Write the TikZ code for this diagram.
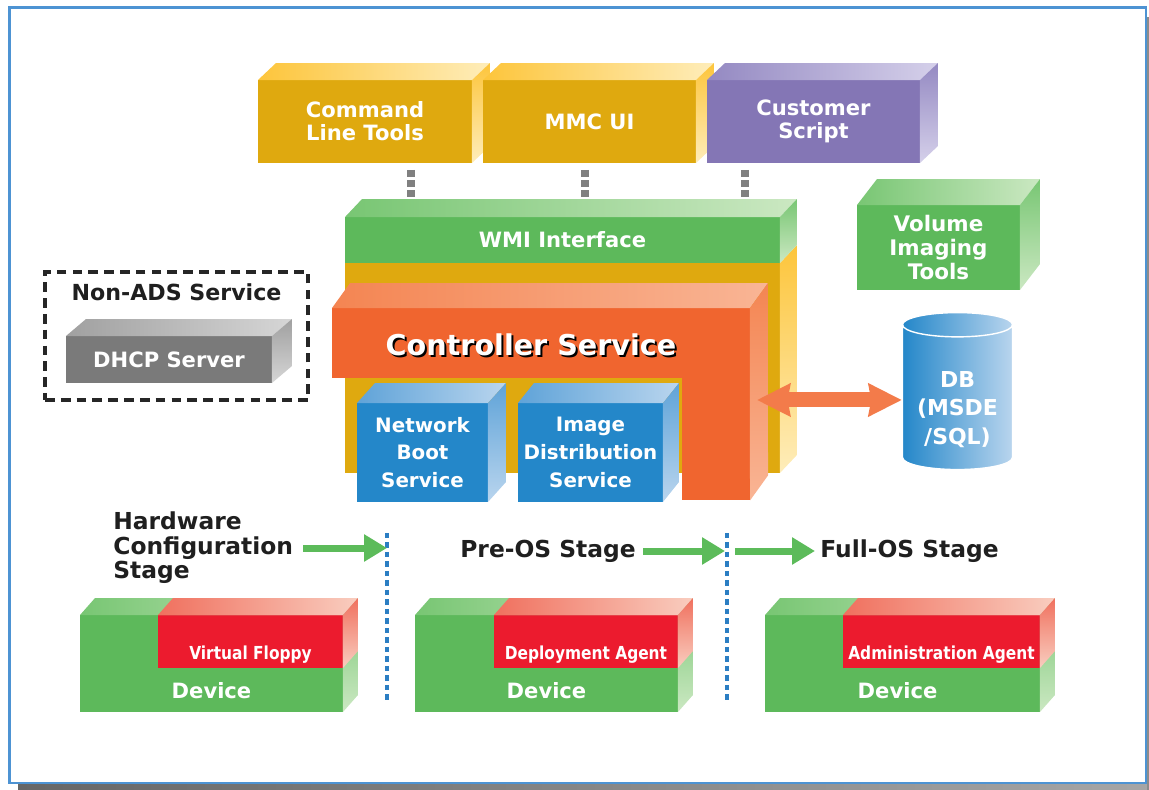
\documentclass[tikz,border=0pt]{standalone}
\usepackage{fontspec}
\setmainfont{DejaVu Sans}
\newfontfamily\narrowsans[FakeStretch=0.86]{DejaVu Sans}
\usetikzlibrary{arrows.meta, positioning, calc, shapes.geometric}

\definecolor{framebl}{HTML}{4D93D3}
\definecolor{goldfront}{HTML}{DFA90F}
\definecolor{goldtop}{HTML}{FDC53B}
\definecolor{goldlight}{HTML}{FEEDBA}
\definecolor{purplefront}{HTML}{8476B5}
\definecolor{purpletop}{HTML}{9489C2}
\definecolor{purplelight}{HTML}{D5D0EA}
\definecolor{greenfront}{HTML}{5DB95B}
\definecolor{greentop}{HTML}{78C673}
\definecolor{greenlight}{HTML}{CBE8C2}
\definecolor{orangefront}{HTML}{F0652F}
\definecolor{orangetop}{HTML}{F48552}
\definecolor{orangelight}{HTML}{F9B595}
\definecolor{bluefront}{HTML}{2487C9}
\definecolor{bluetop}{HTML}{5FA3D8}
\definecolor{bluelight}{HTML}{B9D5EE}
\definecolor{redfront}{HTML}{EC1B2E}
\definecolor{redtop}{HTML}{F0705E}
\definecolor{redlight}{HTML}{F9CDBF}
\definecolor{grayfront}{HTML}{7A7A7A}
\definecolor{graytop}{HTML}{A0A0A0}
\definecolor{graylight}{HTML}{D6D6D6}
\definecolor{linkgray}{HTML}{808080}
\definecolor{dotblue}{HTML}{2B7EC3}
\definecolor{stagegreen}{HTML}{5CBB5A}
\definecolor{dbarrowcol}{HTML}{F37B4A}

% top and right faces of a box whose front face is node #1, depth #2
\newcommand{\cubetop}[4]{%
  \shade[left color=#3, right color=#4]
    (#1.north west) -- ++(#2) -- ($(#1.north east)+(#2)$) -- (#1.north east) -- cycle;}
\newcommand{\cubeside}[4]{%
  \shade[top color=#3, bottom color=#4]
    (#1.north east) -- ++(#2) -- ($(#1.south east)+(#2)$) -- (#1.south east) -- cycle;}

\begin{document}
\begin{tikzpicture}[
    x=0.02cm, y=-0.02cm,
    frontface/.style={rectangle, inner sep=0pt, outer sep=0pt, align=center,
                      text=white, font=\bfseries\fontsize{12}{13.2}\selectfont},
    goldbox/.style={frontface, fill=goldfront},
    purplebox/.style={frontface, fill=purplefront},
    greenbox/.style={frontface, fill=greenfront},
    orangebox/.style={frontface, fill=orangefront},
    bluebox/.style={frontface, fill=bluefront, font=\bfseries\fontsize{11.3}{15.8}\selectfont},
    graybox/.style={frontface, fill=grayfront},
    agentbox/.style={frontface, fill=redfront},
    devtext/.style={text=white, inner sep=0pt, anchor=base,
                    font=\bfseries\fontsize{12}{14}\selectfont},
    agenttext/.style={devtext, font=\narrowsans\bfseries\fontsize{10.2}{11}\selectfont},
    stage/.style={inner sep=0pt, anchor=west, align=left, text=black!88,
                  font=\bfseries\fontsize{13.3}{13.9}\selectfont},
    ctrllabel/.style={inner sep=0pt, font=\bfseries\fontsize{16.3}{18}\selectfont},
    dbfont/.style={font=\bfseries\fontsize{12.5}{16}\selectfont, align=center},
    link/.style={linkgray, line width=4.5pt, dash pattern=on 3.9pt off 1.8pt,
                 shorten <=0.14cm, shorten >=0.4cm},
    sepline/.style={dotblue, line width=2.1pt, dash pattern=on 3pt off 2.4pt},
    stagearrow/.style={stagegreen, line width=0.14cm,
                       -{Triangle[length=0.46cm, width=0.52cm]}},
    dbarrow/.style={dbarrowcol, line width=0.3cm,
                    {Stealth[length=0.66cm, width=0.64cm, inset=0.05cm]}-{Stealth[length=0.66cm, width=0.64cm, inset=0.05cm]}},
    nonads/.style={draw=black!85, line width=2.3pt, dash pattern=on 5.5pt off 3.5pt,
                   inner sep=0pt}
]
\useasboundingbox (0,0) rectangle (1149,790);

%% ── Frame ───────────────────────────────────────────────────────────────────
\shade[left color=black!60, right color=black!35] (18,784) rectangle (1149,790);
\fill[black!45] (1147,17) rectangle (1149,790);
\draw[framebl, line width=1.5pt] (9.5,7.5) rectangle (1146,783);

%% ── Management tools ────────────────────────────────────────────────────────
\node[goldbox, minimum width=4.28cm, minimum height=1.66cm] (cmd) at (365,121.5)
      {Command\\Line Tools};
\cubetop{cmd}{18,-17}{goldtop}{goldlight}
\cubeside{cmd}{18,-17}{goldtop}{goldlight}

\node[goldbox, minimum width=4.26cm, minimum height=1.66cm] (mmc) at (589.5,121.5)
      {MMC UI};
\cubetop{mmc}{18,-17}{goldtop}{goldlight}
\cubeside{mmc}{18,-17}{goldtop}{goldlight}

\node[purplebox, minimum width=4.26cm, minimum height=1.66cm] (script) at (813.5,121.5)
      {Customer\\Script};
\cubetop{script}{18,-17}{purpletop}{purplelight}
\cubeside{script}{18,-17}{purpletop}{purplelight}

%% ── Controller stack ────────────────────────────────────────────────────────
\node[goldbox, minimum width=8.7cm, minimum height=4.2cm] (core) at (562.5,368) {};
\cubeside{core}{17,-18}{goldtop}{goldlight}

\node[greenbox, minimum width=8.7cm, minimum height=0.92cm] (wmi) at (562.5,240)
      {WMI Interface};
\cubetop{wmi}{17,-18}{greentop}{greenlight}
\cubeside{wmi}{17,-18}{greentop}{greenlight}

\draw[link] ([xshift=0.92cm]cmd.south)     -- ([xshift=0.92cm]cmd.south |- wmi.north);
\draw[link] ([xshift=-0.09cm]mmc.south)    -- ([xshift=-0.09cm]mmc.south |- wmi.north);
\draw[link] ([xshift=-1.37cm]script.south) -- ([xshift=-1.37cm]script.south |- wmi.north);

% L-shaped controller block
\node[orangebox, minimum width=8.36cm, minimum height=1.4cm] (ctrl) at (541,343) {};
\node[orangebox, minimum width=1.36cm, minimum height=2.46cm] (leg) at (716,439) {};
\cubetop{ctrl}{18,-25}{orangetop}{orangelight}
\shade[top color=orangetop, bottom color=orangelight]
    (ctrl.north east) -- ++(18,-25) -- ($(leg.south east)+(18,-25)$) -- (leg.south east) -- cycle;
\node[ctrllabel, text=black] (ctrlshadow) at ($(ctrl.center)+(-8,4)$) {Controller Service};
\node[ctrllabel, text=white] (ctrltxt)    at ($(ctrl.center)+(-10,2)$) {Controller Service};

\node[bluebox, minimum width=2.62cm, minimum height=1.98cm] (nbs) at (422.5,452.5)
      {Network\\Boot\\Service};
\cubetop{nbs}{18,-20}{bluetop}{bluelight}
\cubeside{nbs}{18,-20}{bluetop}{bluelight}

\node[bluebox, minimum width=2.9cm, minimum height=1.98cm] (ids) at (590.5,452.5)
      {Image\\Distribution\\Service};
\cubetop{ids}{16,-20}{bluetop}{bluelight}
\cubeside{ids}{16,-20}{bluetop}{bluelight}

%% ── Imaging tools and database ──────────────────────────────────────────────
\node[greenbox, minimum width=3.26cm, minimum height=1.7cm,
      font=\bfseries\fontsize{12.2}{13.7}\selectfont] (vol) at (938.5,247.5)
      {Volume\\Imaging\\Tools};
\cubetop{vol}{20,-26}{greentop}{greenlight}
\cubeside{vol}{20,-26}{greentop}{greenlight}

% the cylinder is sized by an empty box, the label is set lower down
\node[cylinder, shape border rotate=90, aspect=0.3, minimum width=2.2cm,
      minimum height=3.14cm, left color=bluefront, right color=bluelight,
      draw=white, line width=0.8pt, inner sep=0pt, dbfont]
      (db) at (957.5,397.5) {\phantom{\shortstack{DB\\(MSDE\\/SQL)}}};
\node[text=white, inner sep=0pt, dbfont] (dbtxt) at ([yshift=-0.24cm]db.center)
      {DB\\(MSDE\\/SQL)};

\draw[dbarrow] ([xshift=0.14cm, yshift=-0.05cm]leg.east |- db.west)
            -- ([yshift=-0.05cm]db.west);

%% ── Non-ADS service ─────────────────────────────────────────────────────────
\node[nonads, minimum width=5.26cm, minimum height=2.56cm] (nonads) at (176.5,336) {};
\node[inner sep=0pt, text=black!88, font=\bfseries\fontsize{12.6}{14}\selectfont,
      below=0.26cm of nonads.north] (nonadstxt) {Non-ADS Service};

\node[graybox, minimum width=4.12cm, minimum height=0.94cm] (dhcp) at (169,359.5)
      {DHCP Server};
\cubetop{dhcp}{20,-17}{graytop}{graylight}
\cubeside{dhcp}{20,-17}{graytop}{graylight}

%% ── Deployment stages ───────────────────────────────────────────────────────
\node[stage] (hwstage)   at (113,548) {Hardware\\Configuration\\Stage};
\node[stage] (prestage)  at (460,551) {Pre-OS Stage};
\node[stage] (fullstage) at (820,551) {Full-OS Stage};

\coordinate (sep1top) at (387,533);
\coordinate (sep1bot) at (387,703);
\coordinate (sep2top) at (727,533);
\coordinate (sep2bot) at (727,703);
\draw[sepline] (sep1top) -- (sep1bot);
\draw[sepline] (sep2top) -- (sep2bot);

\draw[stagearrow] ([xshift=0.2cm]hwstage.east) -- (sep1top |- hwstage.east);
\draw[stagearrow] ([xshift=0.14cm]prestage.east) -- ([xshift=-0.04cm]sep2top |- prestage.east);
\draw[stagearrow] ([xshift=0.16cm]sep2top |- fullstage.west) -- ([xshift=-0.1cm]fullstage.west);

%% ── Devices ─────────────────────────────────────────────────────────────────
\node[greenbox, minimum width=5.26cm, minimum height=1.94cm] (dev1) at (211.5,663.5) {};
\node[agentbox, minimum width=3.7cm, minimum height=1.06cm, anchor=north east]
      (agent1) at (dev1.north east) {};
\cubetop{dev1}{15,-17}{greentop}{greenlight}
\cubeside{dev1}{15,-17}{greentop}{greenlight}
\cubetop{agent1}{15,-17}{redtop}{redlight}
\cubeside{agent1}{15,-17}{redtop}{redlight}
\node[agenttext] (agent1txt) at ([yshift=0.18cm]agent1.south) {Virtual Floppy};
\node[devtext]   (dev1txt)   at ([yshift=0.26cm]dev1.south)   {Device};

\node[greenbox, minimum width=5.26cm, minimum height=1.94cm] (dev2) at (546.5,663.5) {};
\node[agentbox, minimum width=3.68cm, minimum height=1.06cm, anchor=north east]
      (agent2) at (dev2.north east) {};
\cubetop{dev2}{15,-17}{greentop}{greenlight}
\cubeside{dev2}{15,-17}{greentop}{greenlight}
\cubetop{agent2}{15,-17}{redtop}{redlight}
\cubeside{agent2}{15,-17}{redtop}{redlight}
\node[agenttext] (agent2txt) at ([yshift=0.18cm]agent2.south) {Deployment Agent};
\node[devtext]   (dev2txt)   at ([yshift=0.26cm]dev2.south)   {Device};

\node[greenbox, minimum width=5.5cm, minimum height=1.94cm] (dev3) at (902.5,663.5) {};
\node[agentbox, minimum width=3.94cm, minimum height=1.06cm, anchor=north east]
      (agent3) at (dev3.north east) {};
\cubetop{dev3}{15,-17}{greentop}{greenlight}
\cubeside{dev3}{15,-17}{greentop}{greenlight}
\cubetop{agent3}{15,-17}{redtop}{redlight}
\cubeside{agent3}{15,-17}{redtop}{redlight}
\node[agenttext] (agent3txt) at ([yshift=0.18cm]agent3.south) {Administration Agent};
\node[devtext]   (dev3txt)   at ([xshift=-0.1cm, yshift=0.26cm]dev3.south) {Device};

\end{tikzpicture}
\end{document}
